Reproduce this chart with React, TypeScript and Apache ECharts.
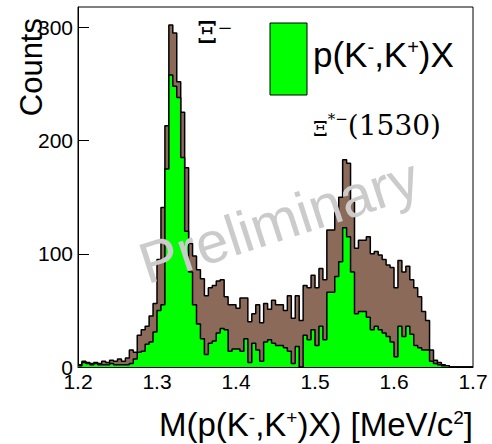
import React, { useEffect, useRef } from "react";
import * as echarts from "echarts";

// Histogram binning (x in MeV/c^2)
const BIN_START = 1.2;
const BIN_WIDTH = 0.005;

// p(K-,K+)X total (brown)
const totalCounts = [
  2, 5, 4, 3, 4, 3, 5, 4, 6, 5,
  7, 5, 8, 15, 13, 28, 33, 36, 45, 56,
  95, 141, 213, 302, 295, 252, 225, 176, 109, 98,
  86, 78, 63, 70, 72, 76, 77, 62, 55, 55,
  52, 61, 61, 40, 47, 55, 39, 56, 51, 59,
  55, 55, 50, 63, 43, 63, 41, 72, 70, 81,
  70, 87, 77, 121, 121, 137, 150, 183, 180, 146,
  105, 112, 112, 115, 100, 102, 99, 95, 90, 88,
  70, 94, 84, 89, 77, 70, 62, 49, 41, 15,
  6, 4, 2, 1, 0, 0, 0, 0, 0, 0,
];

// selected sample (green)
const selectedCounts = [
  1, 4, 3, 2, 3, 2, 2, 2, 3, 2,
  2, 2, 2, 3, 7, 13, 14, 20, 22, 31,
  50, 55, 175, 258, 248, 238, 185, 120, 84, 55,
  38, 25, 11, 21, 23, 30, 34, 33, 14, 16,
  16, 14, 25, 4, 21, 15, 5, 22, 24, 21,
  19, 19, 17, 14, 3, 18, 0, 28, 24, 33,
  19, 36, 24, 66, 66, 80, 93, 123, 115, 84,
  47, 49, 49, 44, 33, 36, 33, 30, 27, 22,
  9, 36, 27, 36, 29, 19, 17, 15, 15, 5,
  3, 2, 1, 1, 0, 0, 0, 0, 0, 0,
];

const xTicks = [1.2, 1.3, 1.4, 1.5, 1.6, 1.7];
const yTicks = [0, 100, 200, 300];

function toSteps(vals: number[]): number[][] {
  const pts = vals.map((v, i) => [+(BIN_START + i * BIN_WIDTH).toFixed(4), v]);
  pts.push([+(BIN_START + vals.length * BIN_WIDTH).toFixed(4), vals[vals.length - 1]]);
  return pts;
}

const SANS = "Liberation Sans";
const SERIF = "DejaVu Serif";

export default function App() {
  const ref = useRef<HTMLDivElement>(null);
  useEffect(() => {
    if (!ref.current) return;
    const chart = echarts.init(ref.current, undefined, { renderer: "svg" });
    chart.setOption({
      animation: false,
      backgroundColor: "#fff",
      grid: {
        left: 78,
        right: 19,
        top: 7,
        bottom: 77,
        show: true,
        borderColor: "#000",
        borderWidth: 1,
        backgroundColor: "transparent",
        containLabel: false,
        outerBoundsMode: "none",
      },
      xAxis: {
        type: "value",
        min: 1.2,
        max: 1.7,
        interval: 0.1,
        axisLine: { show: true, lineStyle: { color: "#000", width: 1 } },
        axisTick: { show: false },
        splitLine: { show: false },
        axisLabel: {
          customValues: xTicks,
          formatter: (v: number) => v.toFixed(1),
          fontSize: 21,
          fontFamily: SANS,
          color: "#000",
          margin: 4,
          alignMinLabel: "center",
          alignMaxLabel: "center",
          hideOverlap: false,
        },
      },
      yAxis: {
        type: "value",
        min: 0,
        max: 318,
        axisLine: { show: true, lineStyle: { color: "#000", width: 1 } },
        axisTick: {
          show: true,
          inside: true,
          length: 11,
          customValues: yTicks,
          lineStyle: { color: "#000", width: 1 },
        },
        splitLine: { show: false },
        axisLabel: {
          customValues: yTicks,
          fontSize: 21,
          fontFamily: SANS,
          color: "#000",
          margin: 5,
          hideOverlap: false,
        },
      },
      series: [
        {
          type: "line",
          step: "end",
          symbol: "none",
          data: toSteps(totalCounts),
          lineStyle: { color: "#000", width: 1.5 },
          areaStyle: { color: "#8c6a5a", opacity: 1 },
          z: 2,
        },
        {
          type: "line",
          step: "end",
          symbol: "none",
          data: toSteps(selectedCounts),
          lineStyle: { color: "#000", width: 1.5 },
          areaStyle: { color: "#00ff00", opacity: 1 },
          z: 3,
        },
      ],
      graphic: [
        {
          type: "text",
          z: 50,
          x: 150,
          y: 293,
          rotation: (18 * Math.PI) / 180,
          style: {
            text: "Preliminary",
            fontSize: 58,
            fontFamily: SANS,
            fill: "#cbcbcb",
            align: "left",
            verticalAlign: "bottom",
          },
        },
        {
          type: "rect",
          z: 60,
          shape: { x: 270, y: 23, width: 37, height: 72 },
          style: { fill: "#00ff00", stroke: "#000", lineWidth: 1 },
        },
        {
          type: "text",
          z: 60,
          x: 313,
          y: 54,
          style: {
            text: "{a|p(K}{s|-}{a|,K}{s|+}{a|)X}",
            verticalAlign: "middle",
            align: "left",
            rich: {
              a: { fontSize: 35, fontFamily: SANS, fill: "#000" },
              s: { fontSize: 20, fontFamily: SANS, fill: "#000", verticalAlign: "top" },
            },
          },
        },
        {
          type: "text",
          z: 60,
          x: 197,
          y: 33,
          style: {
            text: "{x|Ξ}{s|−}",
            verticalAlign: "middle",
            align: "left",
            rich: {
              x: { fontSize: 29, fontFamily: SERIF, fill: "#000" },
              s: { fontSize: 18, fontFamily: SERIF, fill: "#000", verticalAlign: "top" },
            },
          },
        },
        {
          type: "text",
          z: 60,
          x: 313,
          y: 125,
          style: {
            text: "{x|Ξ}{s|*−}{p|(1530)}",
            verticalAlign: "middle",
            align: "left",
            rich: {
              x: { fontSize: 21, fontFamily: SERIF, fill: "#000", verticalAlign: "bottom" },
              s: { fontSize: 15, fontFamily: SERIF, fill: "#000", verticalAlign: "top" },
              p: { fontSize: 28, fontFamily: SERIF, fill: "#000" },
            },
          },
        },
        {
          type: "text",
          z: 60,
          x: 473,
          y: 424,
          style: {
            text: "{a|M(p(K}{s|-}{a|,K}{s|+}{a|)X) [MeV/c}{s|2}{a|]}",
            verticalAlign: "middle",
            align: "right",
            rich: {
              a: { fontSize: 33, fontFamily: SANS, fill: "#000" },
              s: { fontSize: 19, fontFamily: SANS, fill: "#000", verticalAlign: "top" },
            },
          },
        },
        {
          type: "text",
          z: 60,
          x: 47,
          y: 18,
          rotation: Math.PI / 2,
          style: {
            text: "Counts",
            fontSize: 31,
            fontFamily: SANS,
            fill: "#000",
            align: "right",
            verticalAlign: "bottom",
          },
        },
      ],
    });
    return () => chart.dispose();
  }, []);
  return (
    <div
      ref={ref}
      style={{ position: "absolute", left: 0, top: 0, width: 492, height: 444 }}
    />
  );
}
